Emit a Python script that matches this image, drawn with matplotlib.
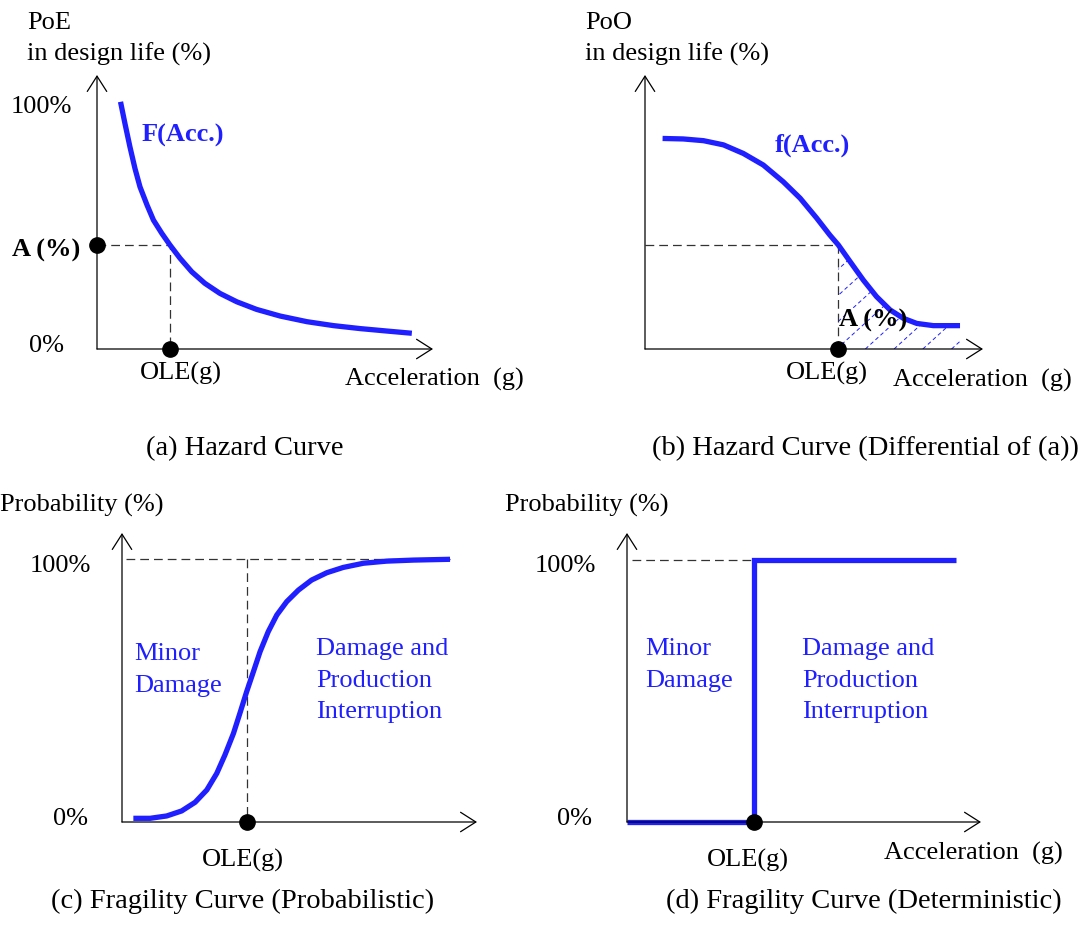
import numpy as np
import matplotlib.pyplot as plt
from matplotlib.patches import Polygon

plt.rcParams['font.family'] = ['Liberation Serif', 'DejaVu Serif']

W, H = 1089, 942
BLUE = '#1f1fff'
DASH = (0, (7, 4))

# (a) hazard curve F(Acc.) - exceedance probability (%)
a_acc = [0.070, 0.083, 0.098, 0.113, 0.128, 0.149, 0.168, 0.193, 0.217, 0.247, 0.282,
         0.321, 0.366, 0.416, 0.475, 0.545, 0.625, 0.704, 0.783, 0.863, 0.937]
a_poe = [100.5, 91.8, 82.2, 73.4, 65.9, 58.5, 52.4, 47.0, 42.3, 36.9, 31.4,
         26.7, 22.6, 19.2, 16.1, 13.4, 11.1, 9.5, 8.3, 7.3, 6.4]
a_ole, a_level = 0.217, 42.3

# (b) differential f(Acc.) - occurrence probability
b_acc = [0.052, 0.113, 0.173, 0.232, 0.291, 0.350, 0.409, 0.459, 0.508, 0.547,
         0.572, 0.607, 0.646, 0.685, 0.725, 0.764, 0.804, 0.853, 0.932]
b_poo = [85.6, 85.4, 84.7, 83.0, 79.5, 74.8, 68.0, 61.3, 53.2, 46.3,
         42.3, 35.5, 28.0, 21.3, 15.9, 12.5, 10.4, 9.5, 9.5]
b_ole = 0.572

# (c) probabilistic fragility curve
c_acc = [0.032, 0.079, 0.126, 0.168, 0.206, 0.239, 0.267, 0.290, 0.314, 0.332, 0.351, 0.370,
         0.389, 0.412, 0.436, 0.464, 0.497, 0.534, 0.577, 0.623, 0.680, 0.745, 0.821, 0.924]
c_prob = [1.4, 1.4, 2.3, 4.2, 7.5, 12.2, 18.5, 25.5, 33.7, 41.3, 49.5, 57.1,
          64.8, 72.4, 78.7, 83.8, 88.2, 92.0, 94.8, 96.8, 98.4, 99.2, 99.6, 99.9]
c_ole = 0.351

# (d) deterministic fragility curve (step)
d_acc = [0.0, 0.359, 0.359, 0.929]
d_prob = [0, 0, 100, 100]
d_ole = 0.359

fig = plt.figure(figsize=(W / 100, H / 100), dpi=100)


def panel(x0, y_bottom, x1, y_top, ytop):
    ax = fig.add_axes([x0 / W, 1 - y_bottom / H, (x1 - x0) / W, (y_bottom - y_top) / H])
    ax.set_xlim(0, 1)
    ax.set_ylim(0, ytop)
    ax.axis('off')
    arrow = dict(arrowstyle='->, head_length=0.55, head_width=0.35', lw=0.9,
                 color='black', shrinkA=0, shrinkB=0, mutation_scale=20)
    ax.annotate('', xy=(1, 0), xytext=(0, 0), xycoords='axes fraction', arrowprops=arrow)
    ax.annotate('', xy=(0, 1), xytext=(0, 0), xycoords='axes fraction', arrowprops=arrow)
    return ax


def T(x, y, s, ha='left', size=19, **kw):
    fig.text(x / W, 1 - y / H, s, ha=ha, va='baseline', size=size, **kw)


def dashed(ax, xs, ys):
    ax.plot(xs, ys, color='#333333', lw=0.9, ls=DASH, clip_on=False)


def curve(ax, xs, ys):
    ax.plot(xs, ys, color=BLUE, lw=3.8, clip_on=False,
            solid_capstyle='butt', solid_joinstyle='round')


def dot(ax, x, y):
    ax.plot(x, y, 'o', color='black', ms=11, clip_on=False, zorder=5)


# ---- (a)
ax = panel(97, 349, 433, 75, 111.4)
dashed(ax, [0, a_ole, a_ole], [a_level, a_level, 0])
curve(ax, a_acc, a_poe)
dot(ax, 0, a_level)
dot(ax, a_ole, 0)
T(27, 29, 'PoE')
T(27, 61, 'in design life (%)')
T(72, 113, '100%', ha='right')
T(64, 352, '0%', ha='right')
T(80, 257, 'A (%)', ha='right', weight='bold')
T(142, 142, 'F(Acc.)', color=BLUE, weight='bold')
T(181, 380, 'OLE(g)', ha='center')
T(345, 386, 'Acceleration  (g)')
T(245, 455, '(a) Hazard Curve', ha='center', size=20.5)

# ---- (b)
ax = panel(645, 349, 983, 75, 111.4)
sel = [i for i, v in enumerate(b_acc) if v >= b_ole]
verts = [(b_acc[i], b_poo[i]) for i in sel] + [(b_acc[sel[-1]], 0), (b_ole, 0)]
region = Polygon(verts, closed=True, facecolor='none', edgecolor='none')
ax.add_patch(region)
ys = np.array([0, 111.4])
for x0 in np.arange(b_ole - 0.6, 1.0, 0.085):
    hl, = ax.plot(x0 + ys * 2.46 / 338 * 1.1, ys, color=BLUE, lw=0.7, ls=(0, (4, 3)))
    hl.set_clip_path(region)
b_level = b_poo[sel[0]]
dashed(ax, [0, b_ole, b_ole], [b_level, b_level, 0])
curve(ax, b_acc, b_poo)
dot(ax, b_ole, 0)
T(585, 29, 'PoO')
T(585, 61, 'in design life (%)')
T(775, 152, 'f(Acc.)', color=BLUE, weight='bold')
T(839, 327, 'A (%)', weight='bold')
T(827, 380, 'OLE(g)', ha='center')
T(893, 387, 'Acceleration  (g)')
T(865, 455, '(b) Hazard Curve (Differential of (a))', ha='center', size=20.5)

# ---- (c)
ax = panel(122, 822, 477, 533, 109.9)
dashed(ax, [0.011, c_acc[-1]], [100, 100])
dashed(ax, [c_ole, c_ole], [100, 0])
curve(ax, c_acc, c_prob)
dot(ax, c_ole, 0)
T(0, 512, 'Probability (%)')
T(91, 572, '100%', ha='right')
T(88, 825, '0%', ha='right')
T(134, 660, 'Minor', color=BLUE)
T(134, 692, 'Damage', color=BLUE)
T(316, 655, 'Damage and', color=BLUE)
T(316, 687, 'Production', color=BLUE)
T(316, 718, 'Interruption', color=BLUE)
T(243, 867, 'OLE(g)', ha='center')
T(243, 908, '(c) Fragility Curve (Probabilistic)', ha='center', size=20.5)

# ---- (d)
ax = panel(627, 822, 981, 533, 110.3)
dashed(ax, [0.014, d_ole], [100, 100])
ax.plot(d_acc, d_prob, color=BLUE, lw=3.8, clip_on=False,
        solid_capstyle='butt', solid_joinstyle='miter')
dot(ax, d_ole, 0)
T(505, 512, 'Probability (%)')
T(596, 572, '100%', ha='right')
T(592, 825, '0%', ha='right')
T(645, 655, 'Minor', color=BLUE)
T(645, 687, 'Damage', color=BLUE)
T(802, 655, 'Damage and', color=BLUE)
T(802, 687, 'Production', color=BLUE)
T(802, 718, 'Interruption', color=BLUE)
T(748, 867, 'OLE(g)', ha='center')
T(884, 860, 'Acceleration  (g)')
T(864, 908, '(d) Fragility Curve (Deterministic)', ha='center', size=20.5)

fig.savefig('out.png', dpi=100)
